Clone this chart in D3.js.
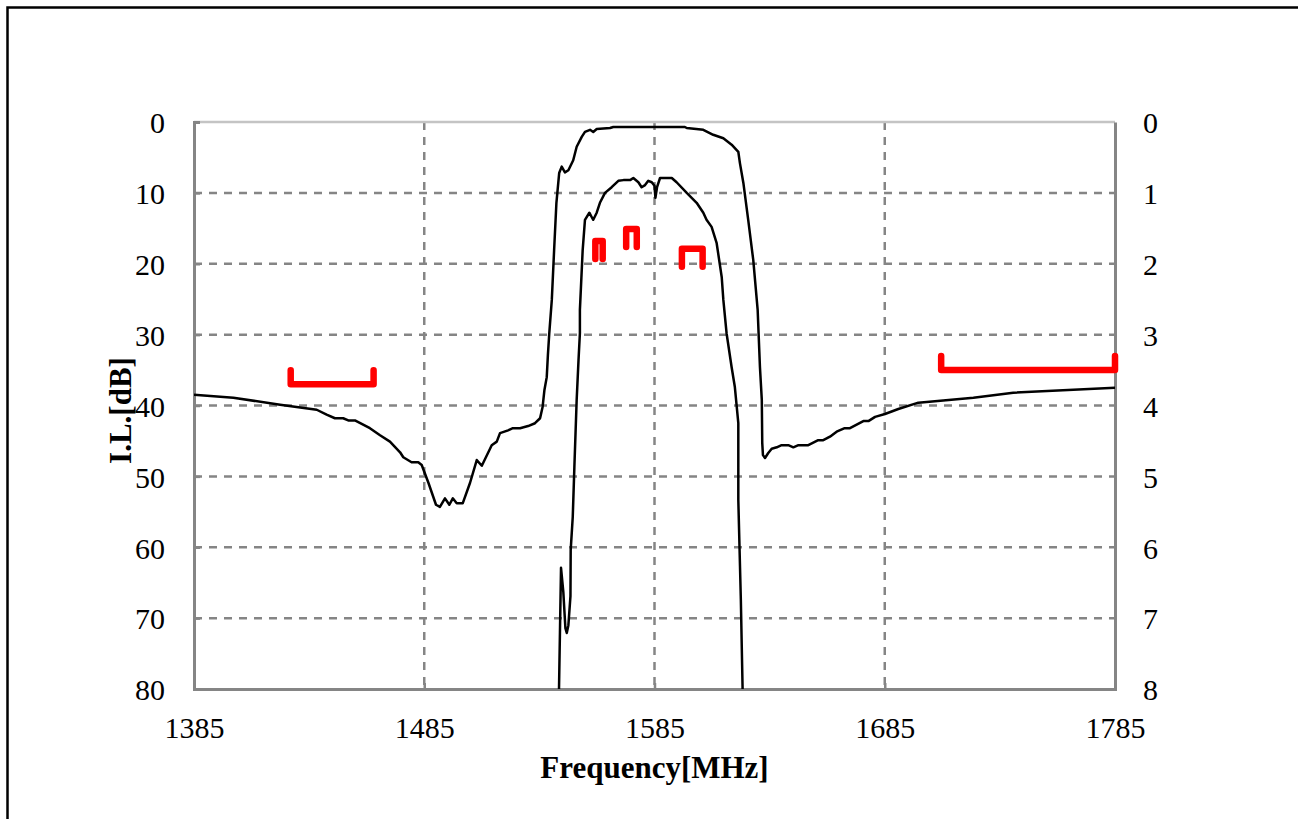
<!DOCTYPE html>
<html>
<head>
<meta charset="utf-8">
<script src="https://d3js.org/d3.v7.min.js"></script>
<style>
  body { margin: 0; background: #fff; }
  svg { display: block; }
  text { font-family: "Liberation Serif", "Times New Roman", serif; fill: #000; }
</style>
</head>
<body>
<script>
(function () {

// wideband response (dB)
var wideFreq = [1385, 1402.1, 1422.4, 1438.3, 1442.6, 1446.2, 1449.8, 1452.0, 1454.9, 1461.4,
  1465.8, 1470.1, 1474.5, 1475.9, 1479.5, 1482.4, 1483.9, 1486.8, 1490.1, 1491.8,
  1494.0, 1495.9, 1497.4, 1499.1, 1501.7, 1504.9, 1507.8, 1510.0, 1514.3, 1516.5,
  1517.9, 1521.4, 1523.5, 1526.6, 1530.1, 1533.1, 1535.3, 1536.4, 1537.2, 1538.2,
  1538.7, 1539.3, 1540.4, 1541.4, 1542.4, 1543.6, 1544.7, 1546.1, 1547.6, 1549.7,
  1551.2, 1553.4, 1554.8, 1557.0, 1558.4, 1559.9, 1565.7, 1567.1, 1585.2, 1598.2,
  1599.0, 1606.2, 1610.5, 1614.9, 1618.5, 1621.4, 1622.1, 1623.6, 1625.7, 1627.9,
  1629.8, 1630.8, 1631.6, 1631.8, 1632.1, 1633.0, 1634.4, 1635.9, 1638.1, 1640.2,
  1643.1, 1645.3, 1647.5, 1651.8, 1656.1, 1658.3, 1661.2, 1664.1, 1667.6, 1669.9,
  1675.7, 1677.9, 1680.8, 1685.1, 1690.9, 1699.6, 1723.5, 1740.8, 1785]
var wideLoss = [38.5, 38.9, 39.9, 40.6, 41.3, 41.8, 41.8, 42.1, 42.1, 43.2,
  44.2, 45.1, 46.6, 47.3, 48.0, 48.0, 48.4, 50.9, 54.0, 54.3,
  53.1, 54.0, 53.1, 53.8, 53.8, 50.9, 47.7, 48.5, 45.6, 45.1,
  43.9, 43.5, 43.2, 43.2, 42.9, 42.5, 41.8, 40.2, 37.8, 36.0,
  32.9, 29.8, 25.1, 18.1, 11.4, 7.2, 6.3, 7.1, 6.8, 5.4,
  3.5, 2.1, 1.4, 1.1, 1.4, 1.0, 0.85, 0.7, 0.7, 0.7,
  0.85, 1.1, 1.8, 2.3, 3.2, 4.2, 5.8, 8.6, 13.8, 19.5,
  26.5, 34.6, 39.2, 45.3, 47.0, 47.4, 46.7, 46.1, 45.9, 45.6,
  45.6, 45.9, 45.6, 45.6, 44.9, 44.9, 44.4, 43.7, 43.2, 43.2,
  42.2, 42.2, 41.6, 41.2, 40.5, 39.6, 38.9, 38.2, 37.5]

// passband detail (dB)
var passFreq = [1543.3, 1544.4, 1545.4, 1546.3, 1546.9, 1547.6, 1548.5, 1548.6, 1549.5, 1550.2,
  1551.2, 1552.0, 1552.6, 1552.6, 1553.8, 1554.8, 1556.7, 1557.7, 1558.4, 1559.9,
  1561.3, 1563.5, 1566.4, 1569.3, 1571.5, 1574.4, 1575.8, 1578.0, 1579.4, 1580.9,
  1582.3, 1583.8, 1585.0, 1585.4, 1586.1, 1587.4, 1592.5, 1594.6, 1599.0, 1603.3,
  1606.2, 1607.6, 1609.8, 1612.0, 1614.2, 1614.9, 1616.3, 1618.5, 1619.9, 1621.4,
  1621.4, 1622.5, 1623.3, 1623.7]
var passLoss = [8.44, 6.29, 6.63, 7.14, 7.21, 7.10, 6.69, 6.04, 5.57, 4.87,
  3.92, 3.36, 2.98, 2.65, 1.81, 1.38, 1.28, 1.34, 1.38, 1.28,
  1.14, 1.00, 0.92, 0.83, 0.82, 0.82, 0.79, 0.85, 0.92, 0.89,
  0.83, 0.85, 0.90, 1.07, 0.92, 0.79, 0.79, 0.85, 1.00, 1.14,
  1.28, 1.38, 1.48, 1.71, 2.19, 2.51, 2.98, 3.46, 3.74, 4.25,
  5.33, 6.74, 8.06, 8.44]

// spec masks: stopband on the left axis, passband on the right axis
var stopMaskFrom = [1427, 1709.5]
var stopMaskTo = [1463, 1785]
var stopMaskLevel = [37, 35]
var passMaskFrom = [1559.3, 1572.7, 1596.9]
var passMaskTo = [1562.5, 1577.3, 1605.9]
var passMaskLevel = [1.68, 1.51, 1.79]

var xTicks = [1385, 1485, 1585, 1685, 1785]
var leftTicks = [0, 10, 20, 30, 40, 50, 60, 70, 80]
var rightTicks = [0, 1, 2, 3, 4, 5, 6, 7, 8]

var W = 1298, H = 819
var margin = { left: 194, top: 122 }
var width = 921, height = 567

var svg = d3.select("body").append("svg")
  .attr("width", W)
  .attr("height", H)

// outer frame
svg.append("rect")
  .attr("x", 7.5).attr("y", 7.5)
  .attr("width", W + 20).attr("height", H + 20)
  .attr("fill", "white")
  .attr("stroke", "#000")
  .attr("stroke-width", 2.5)

var g = svg.append("g")
  .attr("transform", "translate(" + margin.left + " " + margin.top + ")")

var x = d3.scaleLinear().domain([1385, 1785]).range([0, width])
var yL = d3.scaleLinear().domain([0, 80]).range([0, height])
var yR = d3.scaleLinear().domain([0, 8]).range([0, height])

// grid
g.selectAll(".hgrid")
  .data(leftTicks.slice(1, -1))
  .enter().append("line")
  .attr("x1", 0).attr("x2", width)
  .attr("y1", function(d) { return yL(d) })
  .attr("y2", function(d) { return yL(d) })
  .attr("stroke", "#858585")
  .attr("stroke-width", 2.5)
  .attr("stroke-dasharray", "8 7")

g.selectAll(".vgrid")
  .data(xTicks.slice(1, -1))
  .enter().append("line")
  .attr("x1", function(d) { return x(d) })
  .attr("x2", function(d) { return x(d) })
  .attr("y1", 0).attr("y2", height)
  .attr("stroke", "#858585")
  .attr("stroke-width", 2.5)
  .attr("stroke-dasharray", "8 7")

// top edge is lighter
g.append("line")
  .attr("x1", 0).attr("x2", width)
  .attr("y1", 0).attr("y2", 0)
  .attr("stroke", "#c4c4c4")
  .attr("stroke-width", 2.5)

// axes
var axisL = g.append("g").call(d3.axisLeft(yL).tickValues(leftTicks).tickSize(-6).tickPadding(29))
var axisR = g.append("g").attr("transform", "translate(" + width + " 0)")
  .call(d3.axisRight(yR).tickValues(rightTicks).tickSize(0).tickPadding(28))
var axisB = g.append("g").attr("transform", "translate(0 " + height + ")")
  .call(d3.axisBottom(x).tickValues(xTicks).tickFormat(d3.format("d")).tickSize(-6).tickPadding(28))

;[axisL, axisR, axisB].forEach(function(a) {
  a.select(".domain").attr("stroke", "#858585").attr("stroke-width", 3)
  a.selectAll(".tick line").attr("stroke", "#858585").attr("stroke-width", 2.5)
  a.selectAll("text")
    .style("font-family", "Liberation Serif")
    .style("font-size", "30px")
    .attr("fill", "#000")
})
axisB.selectAll("text").attr("dy", "0.7em")
axisL.selectAll("text").attr("dy", "0.36em")
axisR.selectAll("text").attr("dy", "0.36em")

// curves
var clip = g.append("clipPath").attr("id", "plotclip")
clip.append("rect").attr("width", width).attr("height", height)

var wideLine = d3.line()
  .x(function(d, i) { return x(wideFreq[i]) })
  .y(function(d) { return yL(d) })
var passLine = d3.line()
  .x(function(d, i) { return x(passFreq[i]) })
  .y(function(d) { return yR(d) })

var curves = g.append("g").attr("clip-path", "url(#plotclip)")
curves.append("path")
  .attr("d", wideLine(wideLoss))
  .attr("fill", "none")
  .attr("stroke", "#000")
  .attr("stroke-width", 2.5)
  .attr("stroke-linejoin", "round")
curves.append("path")
  .attr("d", passLine(passLoss))
  .attr("fill", "none")
  .attr("stroke", "#000")
  .attr("stroke-width", 2.5)
  .attr("stroke-linejoin", "round")

// masks
var stopLeg = 14, passLeg = 18
g.selectAll(".stopmask")
  .data(stopMaskLevel)
  .enter().append("path")
  .attr("d", function(d, i) {
    var x1 = x(stopMaskFrom[i]), x2 = x(stopMaskTo[i]), y = yL(d)
    return "M" + x1 + "," + (y - stopLeg) + "L" + x1 + "," + y + "L" + x2 + "," + y + "L" + x2 + "," + (y - stopLeg)
  })
  .attr("fill", "none")
  .attr("stroke", "#ff0000")
  .attr("stroke-width", 6.5)
  .attr("stroke-linecap", "round")
  .attr("stroke-linejoin", "round")

g.selectAll(".passmask")
  .data(passMaskLevel)
  .enter().append("path")
  .attr("d", function(d, i) {
    var x1 = x(passMaskFrom[i]), x2 = x(passMaskTo[i]), y = yR(d)
    return "M" + x1 + "," + (y + passLeg) + "L" + x1 + "," + y + "L" + x2 + "," + y + "L" + x2 + "," + (y + passLeg)
  })
  .attr("fill", "none")
  .attr("stroke", "#ff0000")
  .attr("stroke-width", 6.5)
  .attr("stroke-linecap", "round")
  .attr("stroke-linejoin", "round")

// axis titles
g.append("text")
  .text("Frequency[MHz]")
  .attr("x", width / 2)
  .attr("y", height + 89)
  .attr("text-anchor", "middle")
  .style("font-size", "31px")
  .style("font-weight", "bold")

g.append("text")
  .text("I.L.[dB]")
  .attr("transform", "translate(-63 " + (height / 2 + 5) + ") rotate(-90)")
  .attr("text-anchor", "middle")
  .style("font-size", "31px")
  .style("font-weight", "bold")

}())
</script>
</body>
</html>
